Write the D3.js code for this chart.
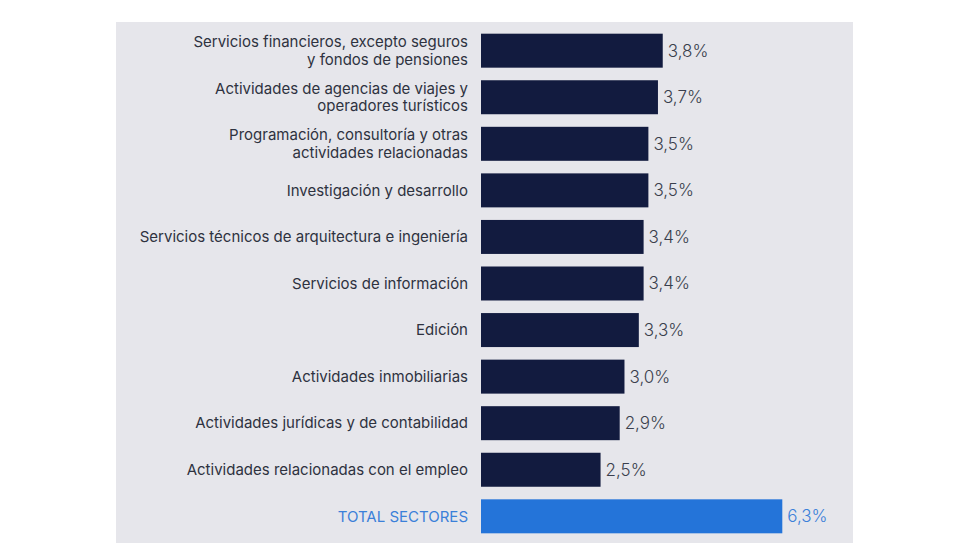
<!DOCTYPE html>
<html>
<head>
<meta charset="utf-8">
<script src="https://cdn.jsdelivr.net/npm/d3@7"></script>
<style>
  html, body { margin: 0; padding: 0; background: #ffffff; }
  svg { display: block; }
  text { font-family: Inter, "Noto Sans", sans-serif; }
</style>
</head>
<body>
<svg id="chart" width="980" height="560"></svg>
<script>
const categories = [
  ["Servicios financieros, excepto seguros", "y fondos de pensiones"],
  ["Actividades de agencias de viajes y", "operadores turísticos"],
  ["Programación, consultoría y otras", "actividades relacionadas"],
  ["Investigación y desarrollo"],
  ["Servicios técnicos de arquitectura e ingeniería"],
  ["Servicios de información"],
  ["Edición"],
  ["Actividades inmobiliarias"],
  ["Actividades jurídicas y de contabilidad"],
  ["Actividades relacionadas con el empleo"],
  ["TOTAL SECTORES"]
];
const values = [3.8, 3.7, 3.5, 3.5, 3.4, 3.4, 3.3, 3.0, 2.9, 2.5, 6.3];
const valueLabels = ["3,8%", "3,7%", "3,5%", "3,5%", "3,4%", "3,4%", "3,3%", "3,0%", "2,9%", "2,5%", "6,3%"];
const totalIndex = 10;

const svg = d3.select("#chart");

// panel background
svg.append("rect")
  .attr("x", 116).attr("y", 22)
  .attr("width", 737).attr("height", 521)
  .attr("fill", "#e6e6eb");

const idx = d3.range(values.length);
const y = d3.scaleBand()
  .domain(idx)
  .range([27.4, 539.6])
  .paddingInner(0.27)
  .paddingOuter(0.135);

const x = d3.scaleLinear()
  .domain([0, 6.3])
  .range([481, 782.3]);

const navy = "#121b3f";
const blue = "#2474d9";

svg.append("g").selectAll("rect")
  .data(idx)
  .join("rect")
  .attr("x", x(0))
  .attr("y", i => y(i))
  .attr("width", i => x(values[i]) - x(0))
  .attr("height", y.bandwidth())
  .attr("fill", i => i === totalIndex ? blue : navy);

// value labels
svg.append("g").selectAll("text")
  .data(idx)
  .join("text")
  .attr("x", i => x(values[i]) + 5)
  .attr("y", i => y(i) + y.bandwidth() / 2)
  .attr("dy", "0.35em")
  .attr("font-size", 17)
  .attr("font-weight", 300)
  .attr("fill", i => i === totalIndex ? "#3b80d9" : "#3a3f4d")
  .text(i => valueLabels[i]);

// category labels
const lineH = 17.5;
const labG = svg.append("g");
idx.forEach(i => {
  const lines = categories[i];
  const cy = y(i) + y.bandwidth() / 2;
  const t = labG.append("text")
    .attr("text-anchor", "end")
    .attr("font-size", 15)
    .attr("fill", i === totalIndex ? "#3b80d9" : "#2e3240");
  lines.forEach((ln, k) => {
    t.append("tspan")
      .attr("x", 468)
      .attr("y", cy + (k - (lines.length - 1) / 2) * lineH)
      .attr("dy", "0.35em")
      .text(ln);
  });
});
</script>
</body>
</html>
